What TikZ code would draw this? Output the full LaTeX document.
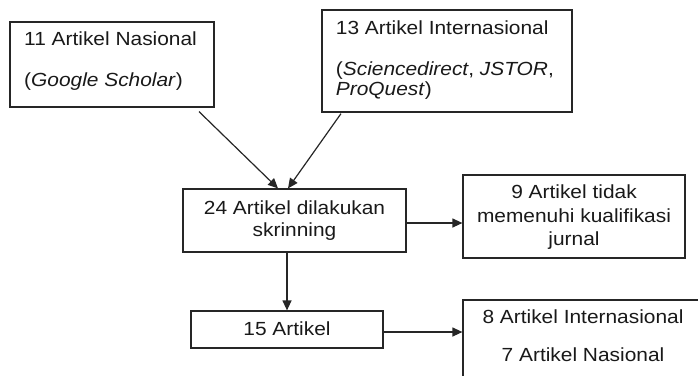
\documentclass[tikz,border=0pt]{standalone}
\usepackage{fontspec}
\setmainfont{Liberation Sans}[FakeStretch=1.1]
\usetikzlibrary{arrows.meta}
\begin{document}
\begin{tikzpicture}[x=1pt,y=-1pt,
  box/.style={draw=black!85, line width=1.2pt, inner sep=0pt},
  txt/.style={inner sep=0pt, text=black!90, font=\fontsize{19}{22}\selectfont},
  arr/.style={draw=black!85, line width=1.2pt, -{Triangle[length=10pt,width=9pt]}}]
\useasboundingbox (0,0) rectangle (698,375);
% boxes
\node[box, minimum width=204pt, minimum height=85pt] (n1) at (112,64.5) {};
\node[box, minimum width=250pt, minimum height=102pt] (n2) at (447,61) {};
\node[box, minimum width=223pt, minimum height=63pt] (n3) at (294.5,220.5) {};
\node[box, minimum width=222pt, minimum height=83pt] (n4) at (574,216.5) {};
\node[box, minimum width=192pt, minimum height=37pt] (n5) at (287,329.5) {};
\node[box, minimum width=240pt, minimum height=100pt] (n6) at (583,350) {};
% texts
\node[txt, anchor=base west] (t1a) at (24,45.7) {11 Artikel Nasional};
\node[txt, anchor=base west] (t1b) at (24,86.5) {(\textit{Google Scholar})};
\node[txt, anchor=base west] (t2a) at (335.7,34) {13 Artikel Internasional};
\node[txt, anchor=base west] (t2b) at (335.7,75.5) {(\textit{Sciencedirect}, \textit{JSTOR},};
\node[txt, anchor=base west] (t2c) at (335.7,95.5) {\textit{ProQuest})};
\node[txt, anchor=base] (t3a) at (294.5,214) {24 Artikel dilakukan};
\node[txt, anchor=base] (t3b) at (294.5,236.5) {skrinning};
\node[txt, anchor=base] (t4a) at (574,198.5) {9 Artikel tidak};
\node[txt, anchor=base] (t4b) at (574,222) {memenuhi kualifikasi};
\node[txt, anchor=base] (t4c) at (574,245) {jurnal};
\node[txt, anchor=base] (t5) at (287,335) {15 Artikel};
\node[txt, anchor=base] (t6a) at (583,323.5) {8 Artikel Internasional};
\node[txt, anchor=base] (t6b) at (583,361.5) {7 Artikel Nasional};
% connectors
\draw[arr] ([xshift=87pt,yshift=-4pt]n1.south) -- ([xshift=-16.5pt]n3.north);
\draw[arr] ([xshift=-106pt,yshift=-1pt]n2.south) -- ([xshift=-6.5pt]n3.north);
\coordinate (a3) at ([yshift=-2.5pt]n3.east);
\draw[arr] (a3) -- (a3 -| n4.west);
\draw[arr] (n5.north |- n3.south) -- (n5.north);
\coordinate (a5) at ([yshift=-2.5pt]n5.east);
\draw[arr] (a5) -- (a5 -| n6.west);
\end{tikzpicture}
\end{document}
